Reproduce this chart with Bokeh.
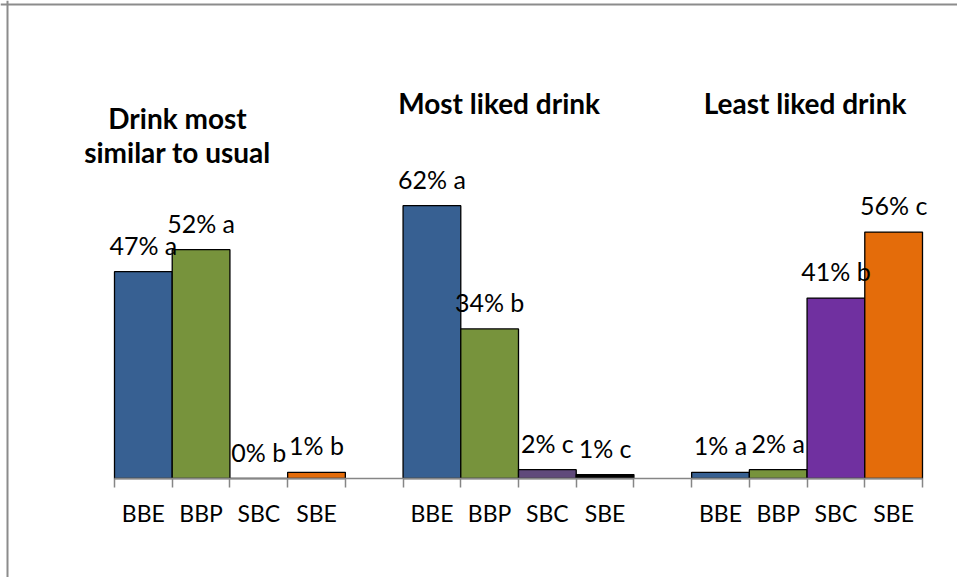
from bokeh.plotting import figure
from bokeh.models import ColumnDataSource, Range1d, FixedTicker, Span
from bokeh.core.properties import value
from bokeh.embed import file_html
from bokeh.resources import INLINE

# ---- data ----
groups = ["Drink most\nsimilar to usual", "Most liked  drink", "Least liked  drink"]
drinks = ["BBE", "BBP", "SBC", "SBE"]
similar_vals = [47, 52, 0, 1.4]
similar_letters = ["a", "a", "b", "b"]
most_vals = [62, 34, 2, 0.9]
most_letters = ["a", "b", "c", "c"]
least_vals = [1.4, 2, 41, 56]
least_letters = ["a", "a", "b", "c"]

similar_colors = ["#376092", "#77933C", "#7030A0", "#E46C0A"]
most_colors = ["#376092", "#77933C", "#604A7B", "#000000"]
least_colors = ["#376092", "#77933C", "#7030A0", "#E46C0A"]

FONT = "Lato"

xs, tops, cols, labels, tick_pos, tick_lab = [], [], [], [], [], []
series = [(similar_vals, similar_letters, similar_colors),
          (most_vals, most_letters, most_colors),
          (least_vals, least_letters, least_colors)]
for gi, (vals, lets, cl) in enumerate(series):
    for di, d in enumerate(drinks):
        x = gi * 5 + di + 0.5
        xs.append(x)
        tops.append(vals[di])
        cols.append(cl[di])
        labels.append(f"{round(vals[di])}% {lets[di]}")
        tick_pos.append(x)
        tick_lab.append(d)

src = ColumnDataSource(dict(x=xs, top=tops, color=cols, label=labels))

# ---- layout (pixels) ----
W, H = 957, 577
AX_L, AX_R, BASE = 114, 922, 478
SLOT = (AX_R - AX_L) / 14.0
PXPCT = 4.4


def X(px):
    return (px - AX_L) / SLOT


def Y(py):
    return (BASE - py) / PXPCT


p = figure(width=W, height=H, output_backend="svg", toolbar_location=None,
           x_range=Range1d(X(0), X(W)), y_range=Range1d(Y(H), Y(0)),
           min_border_left=0, min_border_right=0, min_border_top=0,
           min_border_bottom=0)
p.outline_line_color = None
p.xgrid.visible = False
p.ygrid.visible = False
p.yaxis.visible = False
p.background_fill_color = "white"

p.add_layout(Span(location=X(7), dimension="height", line_color="#8c8c8c", line_width=2))
p.add_layout(Span(location=Y(4), dimension="width", line_color="#8c8c8c", line_width=2))

p.vbar(x="x", top="top", width=1, source=src, fill_color="color",
       line_color="black", line_width=1.3)

p.text(x="x", y="top", text="label", source=src, text_align="center",
       text_baseline="middle", y_offset=-27, text_font=value(FONT),
       text_font_size="25px", text_color="black")

# group titles
title_x = [X(177), X(502), X(808)]
title_y = [Y(134.5), Y(102), Y(102)]
p.text(x=title_x, y=title_y, text=groups, text_align="center",
       text_baseline="middle", text_font=value(FONT), text_font_style="bold",
       text_font_size="28px", text_color="black", text_line_height=1.0)

ax = p.xaxis[0]
ax.fixed_location = 0
ax.bounds = (0, 14)
ax.ticker = FixedTicker(ticks=tick_pos, minor_ticks=list(range(0, 15)))
ax.major_label_overrides = {t: l for t, l in zip(tick_pos, tick_lab)}
ax.major_tick_line_color = None
ax.major_tick_out = 0
ax.major_tick_in = 0
ax.minor_tick_out = 9
ax.minor_tick_in = 0
ax.minor_tick_line_color = "#868686"
ax.minor_tick_line_width = 1.5
ax.axis_line_color = "#868686"
ax.axis_line_width = 1.5
ax.major_label_standoff = 11
ax.major_label_text_font = FONT
ax.major_label_text_font_size = "23px"
ax.major_label_text_color = "black"
ax.major_label_text_font_style = "normal"

open("out.html", "w").write(file_html(p, INLINE))
